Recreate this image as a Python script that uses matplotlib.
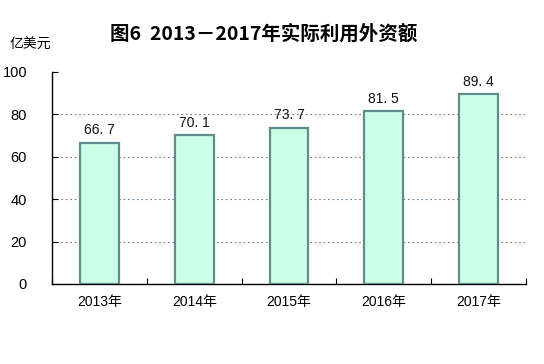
import matplotlib
matplotlib.use("Agg")
import matplotlib.pyplot as plt
import numpy as np

plt.rcParams['font.family'] = ['Liberation Sans', 'Noto Sans CJK SC', 'DejaVu Sans']

categories = ["2013年", "2014年", "2015年", "2016年", "2017年"]
values = [66.7, 70.1, 73.7, 81.5, 89.4]
labels = ["66. 7", "70. 1", "73. 7", "81. 5", "89. 4"]
yticks = [0, 20, 40, 60, 80, 100]

fig = plt.figure(figsize=(5.44, 3.64), dpi=100)
ax = fig.add_axes([0.0956, 0.2198, 0.8714, 0.5824])

x = np.arange(len(categories))
ax.bar(x, values, width=0.41, color="#CCFFE8", edgecolor="#5F8C8C", linewidth=1.6, zorder=3)
for xi, v, lab in zip(x, values, labels):
    ax.text(xi, v + 2.5, lab, ha="center", va="bottom", fontsize=10, color="#111111", zorder=4)

ax.set_xlim(-0.5, len(categories) - 0.5)
ax.set_ylim(0, 100)
ax.set_yticks(yticks)
ax.set_yticklabels([str(t) for t in yticks], fontsize=10.5)
for t in [20, 40, 60, 80]:
    ax.axhline(t, color="#6A7F90", linestyle=(0, (1.5, 2.5)), linewidth=0.8, zorder=1)

ax.set_xticks(x)
ax.set_xticklabels(categories, fontsize=10)
ax.set_xticks(np.arange(len(categories) + 1) - 0.5, minor=True)
ax.tick_params(axis="x", which="major", length=0, pad=8)
ax.tick_params(axis="x", which="minor", direction="in", length=4, width=0.8)
ax.tick_params(axis="y", direction="in", length=4, width=0.8, pad=18)

for s in ["top", "right"]:
    ax.spines[s].set_visible(False)
ax.spines["left"].set_linewidth(1.0)
ax.spines["bottom"].set_linewidth(1.0)

fig.text(0.485, 0.907, "图6  2013－2017年实际利用外资额", ha="center", va="center",
         fontsize=14, fontweight="bold", family=['Noto Sans CJK SC', 'DejaVu Sans'])
fig.text(0.018, 0.878, "亿美元", ha="left", va="center", fontsize=10,
         family=['Noto Sans CJK SC', 'DejaVu Sans'])

fig.savefig("out.png", dpi=100)
